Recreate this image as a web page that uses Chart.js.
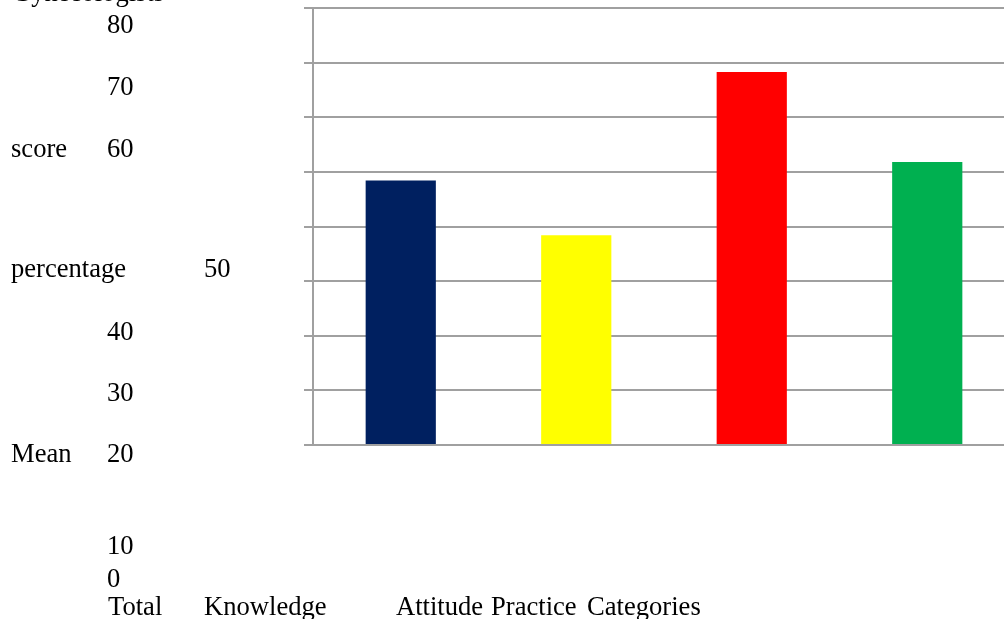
<!DOCTYPE html>
<html>
<head>
<meta charset="utf-8">
<script src="https://cdn.jsdelivr.net/npm/chart.js@4/dist/chart.umd.min.js"></script>
<style>
  html, body { margin:0; padding:0; background:#fff; overflow:hidden; width:1004px; height:619px; }
  #wrap { position:absolute; left:0; top:0; width:1004px; height:619px; overflow:hidden; }
  #c { position:absolute; left:0; top:0; }
  .lbl { position:absolute; font-family:"Liberation Serif","Times New Roman",serif; font-size:26.6px; line-height:26px; color:#000; white-space:nowrap; z-index:2; }
</style>
</head>
<body>
<div id="wrap">
  <canvas id="c" width="1020" height="619"></canvas>
</div>
<script>
// ---- data ----
const categories = ['Knowledge', 'Attitude', 'Practice', 'Total'];
const meanScores = [48.4, 38.4, 68.3, 51.8];
const yTickLabels = ['80', '70', '60', '50', '40', '30', '20', '10', '0'];
const yTitleWords = ['score', 'percentage', 'Mean'];
const titleFragment = 'Gynecologists';
const xTitle = 'Categories';

// ---- styles / layout (not data) ----
const barColors = ['#002060', '#FFFF00', '#FF0000', '#00B050'];
const yTickPos = [[107,33],[107,95],[107,157],[204,277],[107,340],[107,401],[107,462],[107,554],[107,587]];
const yTitlePos = [[11,157],[11,277],[11,462]];
const titlePos = [12,1];
const xLabelPos = { 'Total':[108,615], 'Knowledge':[204,615], 'Attitude':[396,615], 'Practice':[491,615] };
const xTitlePos = [587,615];

function addLabel(text, x, baseline) {
  const d = document.createElement('div');
  d.className = 'lbl';
  d.textContent = text;
  d.style.left = x + 'px';
  d.style.top = (baseline - 22) + 'px';
  document.getElementById('wrap').appendChild(d);
}

addLabel(titleFragment, titlePos[0], titlePos[1]);
yTickLabels.forEach((t, i) => addLabel(t, yTickPos[i][0], yTickPos[i][1]));
yTitleWords.forEach((t, i) => addLabel(t, yTitlePos[i][0], yTitlePos[i][1]));
['Total', 'Knowledge', 'Attitude', 'Practice'].forEach(t => {
  if (categories.includes(t)) addLabel(t, xLabelPos[t][0], xLabelPos[t][1]);
});
addLabel(xTitle, xTitlePos[0], xTitlePos[1]);

new Chart(document.getElementById('c'), {
  type: 'bar',
  data: {
    labels: categories,
    datasets: [{
      data: meanScores,
      backgroundColor: barColors,
      borderWidth: 0,
      barPercentage: 0.4,
      categoryPercentage: 1.0
    }]
  },
  options: {
    responsive: false,
    animation: false,
    devicePixelRatio: 1,
    layout: { padding: { left: 304, top: 8, right: 5, bottom: 166 } },
    plugins: { legend: { display: false }, tooltip: { enabled: false } },
    scales: {
      x: {
        grid: { display: false },
        border: { display: false },
        ticks: { display: false }
      },
      y: {
        min: 0,
        max: 80,
        ticks: { display: false, stepSize: 10 },
        grid: { color: '#a0a0a0', lineWidth: 2, drawTicks: true, tickLength: 9 },
        border: { color: '#a0a0a0', width: 2 }
      }
    }
  }
});
</script>
</body>
</html>
